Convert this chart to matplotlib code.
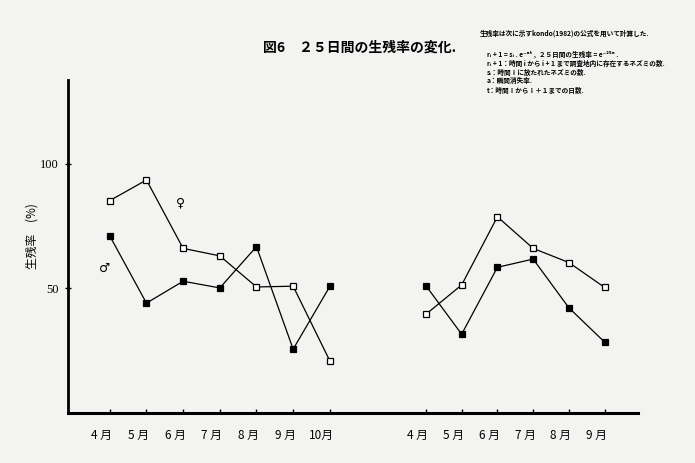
import numpy as np
import matplotlib.pyplot as plt
import matplotlib.transforms as mtransforms

plt.rcParams['font.family'] = ['Noto Sans CJK JP', 'DejaVu Sans']

# data (survival rate over 25 days, %)
months_a = ['4 月', '5 月', '6 月', '7 月', '8 月', '9 月', '10月']
female_a = [85.2, 93.5, 66.0, 63.0, 50.5, 50.8, 20.8]
male_a = [71.0, 44.0, 52.8, 50.1, 66.7, 25.5, 50.7]

months_b = ['4 月', '5 月', '6 月', '7 月', '8 月', '9 月']
female_b = [39.5, 51.3, 78.7, 66.0, 60.3, 50.3]
male_b = [51.0, 31.5, 58.4, 61.7, 42.1, 28.3]

title = '図6　２５日間の生残率の変化.'
note = ['生残率は次に示すkondo(1982)の公式を用いて計算した.',
        'r\u1d62 + 1 = s\u1d62 . e\u207b\u1d43\u1d57 ,  ２５日間の生残率 = e\u207b\u00b2\u2075\u1d43 .',
        'r\u1d62 + 1：時間 i から i + 1 まで調査地内に存在するネズミの数.',
        's\u1d62：時間ｉに放たれたネズミの数.',
        'a：瞬間消失率.',
        't：時間ｉからｉ＋１までの日数.']

bg = '#f3f3f1'
fig = plt.figure(figsize=(6.95, 4.63), dpi=100, facecolor=bg)
ax = fig.add_axes([0.0978, 0.1089, 0.820, 0.7184], facecolor=bg)

xa = np.arange(len(months_a))
xb = 8.62 + 0.975 * np.arange(len(months_b))

sty = dict(color='black', lw=0.9, marker='s', markersize=4.6, markeredgewidth=0.9)
for x, fem, mal in [(xa, female_a, male_a), (xb, female_b, male_b)]:
    ax.plot(x, fem, markerfacecolor='white', markeredgecolor='black', **sty)
    ax.plot(x, mal, markerfacecolor='black', markeredgecolor='black', **sty)

ax.text(1.92, 84.3, '♀', ha='center', va='center', fontsize=9, family=['DejaVu Sans'])
ax.text(-0.13, 58.1, '♂', ha='center', va='center', fontsize=9, family=['DejaVu Sans'])

ax.set_xlim(-1.14, 14.4)
ax.set_ylim(0, 133.7)
for s in ['top', 'right']:
    ax.spines[s].set_visible(False)
ax.spines['left'].set_linewidth(2)
ax.spines['bottom'].set_linewidth(2.2)

ax.set_yticks([50, 100])
ax.set_yticklabels(['50', '100'], fontsize=9, family=['Liberation Serif'])
ax.tick_params(axis='y', direction='inout', length=5, width=1, pad=4)

ax.set_xticks(np.concatenate([xa, xb]))
ax.set_xticklabels(months_a + months_b, fontsize=8.5)
ax.tick_params(axis='x', direction='in', length=3, width=1, pad=12)
shift = mtransforms.ScaledTranslation(-8 / 100, 0, fig.dpi_scale_trans)
for lab in ax.get_xticklabels():
    lab.set_transform(lab.get_transform() + shift)

fig.text(32 / 695, 1 - 236 / 463, '生残率　(%)', rotation=90, ha='center', va='center', fontsize=8.5)
fig.text(360 / 695, 1 - 48 / 463, title, ha='center', va='center', fontsize=10, fontweight='bold')

fig.text(480 / 695, 1 - 33 / 463, note[0], ha='left', va='center', fontsize=4.8, fontweight='bold')
for i, line in enumerate(note[1:]):
    fig.text(487 / 695, 1 - (54 + 9 * i) / 463, line, ha='left', va='center', fontsize=4.8,
             fontweight='bold')

fig.savefig('out.png', dpi=100, facecolor=bg)
